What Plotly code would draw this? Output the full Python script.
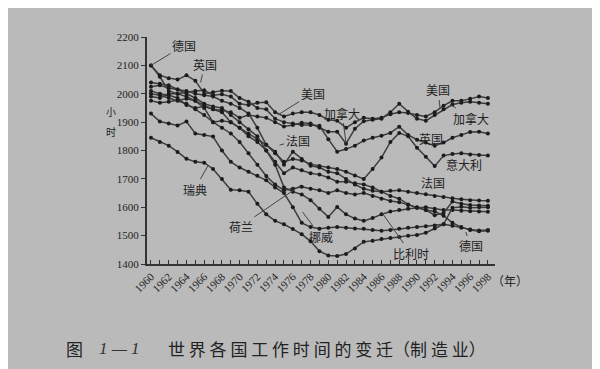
import plotly.graph_objects as go

years = list(range(1960, 1999))

germany = [2100, 2060, 2010, 2000, 1990, 1975, 1950, 1900, 1905, 1900,
           1880, 1850, 1830, 1800, 1760, 1720, 1740, 1730, 1720, 1715,
           1705, 1690, 1690, 1685, 1680, 1670, 1655, 1640, 1630, 1610,
           1598, 1590, 1585, 1570, 1545, 1530, 1520, 1515, 1517]
uk = [2100, 2065, 2055, 2050, 2065, 2046, 2000, 2005, 2011, 2010,
      1985, 1972, 1950, 1945, 1912, 1900, 1895, 1890, 1890, 1887,
      1840, 1796, 1805, 1817, 1835, 1845, 1852, 1862, 1884, 1855,
      1838, 1828, 1817, 1828, 1845, 1855, 1865, 1866, 1860]
usa = [1990, 1985, 2000, 2000, 2005, 2010, 2012, 1995, 1998, 1990,
       1965, 1960, 1968, 1970, 1935, 1920, 1930, 1935, 1935, 1925,
       1908, 1905, 1880, 1900, 1915, 1912, 1915, 1928, 1935, 1932,
       1925, 1920, 1935, 1958, 1975, 1975, 1982, 1990, 1985]
canada = [1975, 1968, 1972, 1978, 1982, 1975, 1960, 1945, 1942, 1935,
          1915, 1925, 1920, 1915, 1900, 1885, 1890, 1898, 1895, 1880,
          1866, 1866, 1824, 1877, 1903, 1908, 1912, 1935, 1965, 1937,
          1912, 1905, 1925, 1945, 1962, 1968, 1972, 1968, 1965]
france = [2025, 2030, 2020, 2015, 2010, 2000, 1995, 1990, 1975, 1965,
          1950, 1930, 1880, 1820, 1796, 1750, 1796, 1770, 1746, 1740,
          1725, 1720, 1700, 1680, 1665, 1658, 1655, 1658, 1660, 1655,
          1650, 1646, 1640, 1636, 1632, 1628, 1625, 1624, 1623]
italy = [2010, 2000, 1995, 1985, 1960, 1950, 1955, 1945, 1935, 1900,
         1880, 1860, 1840, 1820, 1790, 1760, 1770, 1765, 1752, 1745,
         1740, 1735, 1725, 1712, 1700, 1735, 1775, 1830, 1862, 1850,
         1810, 1778, 1745, 1782, 1788, 1790, 1786, 1784, 1782]
belgium = [2040, 2035, 2030, 2015, 2000, 1985, 1965, 1955, 1950, 1925,
           1900, 1875, 1850, 1800, 1750, 1670, 1655, 1645, 1625, 1595,
           1566, 1601, 1575, 1560, 1552, 1562, 1575, 1585, 1590, 1595,
           1598, 1600, 1595, 1590, 1590, 1588, 1586, 1585, 1584]
netherlands = [2000, 1995, 1985, 1975, 1965, 1945, 1925, 1900, 1880, 1860,
               1830, 1790, 1750, 1710, 1680, 1660, 1665, 1672, 1665, 1660,
               1650, 1660, 1650, 1645, 1650, 1640, 1630, 1622, 1618, 1608,
               1600, 1590, 1572, 1580, 1620, 1612, 1608, 1606, 1605]
norway = [1930, 1902, 1895, 1888, 1902, 1860, 1855, 1849, 1800, 1760,
          1740, 1725, 1711, 1695, 1670, 1650, 1600, 1545, 1530, 1524,
          1528, 1530, 1528, 1525, 1524, 1520, 1517, 1520, 1524, 1528,
          1530, 1533, 1536, 1540, 1535, 1528, 1522, 1518, 1520]
sweden = [1845, 1830, 1817, 1795, 1771, 1760, 1757, 1735, 1700, 1662,
          1660, 1655, 1612, 1575, 1552, 1540, 1523, 1505, 1480, 1445,
          1430, 1428, 1435, 1455, 1478, 1482, 1488, 1492, 1495, 1500,
          1502, 1510, 1525, 1540, 1598, 1602, 1598, 1600, 1600]

series = [("德国", germany), ("英国", uk), ("美国", usa), ("加拿大", canada),
          ("法国", france), ("意大利", italy), ("比利时", belgium),
          ("荷兰", netherlands), ("挪威", norway), ("瑞典", sweden)]

y_ticks = [1400, 1500, 1600, 1700, 1800, 1900, 2000, 2100, 2200]
x_ticks = list(range(1960, 1999, 2))

BG = "#bababa"
CJK = "Noto Sans CJK SC"
SERIF = "Liberation Serif"

fig = go.Figure()
for name, vals in series:
    fig.add_trace(go.Scatter(
        x=years, y=vals, name=name, mode="lines+markers",
        line=dict(color="#3c3c3c", width=1.5),
        marker=dict(color="#1c1c1c", size=4),
        showlegend=False, hoverinfo="skip"))

# (text, x, y, ax, ay)
labels = [
    ("德国", 1960, 2100, 33, -20),
    ("英国", 1965.6, 2040, 4, -18),
    ("美国", 1974.3, 1925, 35, -22),
    ("加拿大", 1982, 1826, -4, -30),
    ("法国", 1974.5, 1819, 18, -5),
    ("瑞典", 1966.4, 1745, -13, 23),
    ("荷兰", 1976.9, 1678, -60, 41),
    ("挪威", 1977.1, 1583, 18, 24),
    ("法国", 1990.4, 1657, 12, -9),
    ("比利时", 1986.0, 1583, 29, 41),
    ("德国", 1995.5, 1513, 5, 14),
    ("美国", 1992.6, 1950, -2, -18),
    ("加拿大", 1993.9, 1960, 19, 13),
]
for t, x, y, ax, ay in labels:
    fig.add_annotation(x=x, y=y, text=t, showarrow=True, ax=ax, ay=ay,
                       arrowhead=0, arrowwidth=1, arrowcolor="#444",
                       font=dict(family=CJK, size=12, color="#222"))

# unattached labels
fig.add_annotation(x=1991.6, y=1842, text="英国", showarrow=False,
                   font=dict(family=CJK, size=12, color="#222"))
fig.add_annotation(x=1995.3, y=1752, text="意大利", showarrow=False,
                   font=dict(family=CJK, size=12, color="#222"))


def paper_text(text, px, py, size, family=CJK, color="#222", pad=1):
    fig.add_annotation(xref="paper", yref="paper",
                       x=(px - 139) / 348, y=(256 - py) / 227,
                       xanchor="center", yanchor="middle",
                       text=text, showarrow=False, borderpad=pad,
                       font=dict(family=family, size=size, color=color))


# axis unit labels
paper_text("小", 103, 103, 10, pad=0)
paper_text("时", 103, 123, 10, pad=0)
paper_text("（年）", 502, 272, 12)

# caption
paper_text("图", 66, 340, 17)
paper_text("<i>1 — 1</i>", 111, 340, 17, family=SERIF, color="#333")
fig.add_annotation(xref="paper", yref="paper", x=(158 - 139) / 348,
                   y=(256 - 340) / 227, xanchor="left", yanchor="middle",
                   text="世 界 各 国 工 作 时 间 的 变 迁（制 造 业）",
                   showarrow=False,
                   font=dict(family=CJK, size=17, color="#222"))

fig.update_layout(
    width=600, height=369,
    margin=dict(l=139, r=113, t=29, b=113),
    paper_bgcolor=BG, plot_bgcolor=BG,
    xaxis=dict(range=[1959.55, 1998.8], tickvals=x_ticks,
               ticktext=[str(v) for v in x_ticks], tickangle=-45,
               ticks="inside", ticklen=4, tickcolor="#333",
               minor=dict(dtick=1, tick0=1960, ticks="inside", ticklen=4,
                          tickcolor="#333"),
               showline=True, linecolor="#333", linewidth=2,
               showgrid=False, zeroline=False,
               tickfont=dict(family=SERIF, size=11, color="#222")),
    yaxis=dict(range=[1400, 2200], tickvals=y_ticks,
               ticks="outside", ticklen=4, tickcolor="#333",
               showline=True, linecolor="#333", linewidth=2,
               showgrid=False, zeroline=False,
               tickfont=dict(family=SERIF, size=11, color="#222")),
)

fig.write_html("out.html")
